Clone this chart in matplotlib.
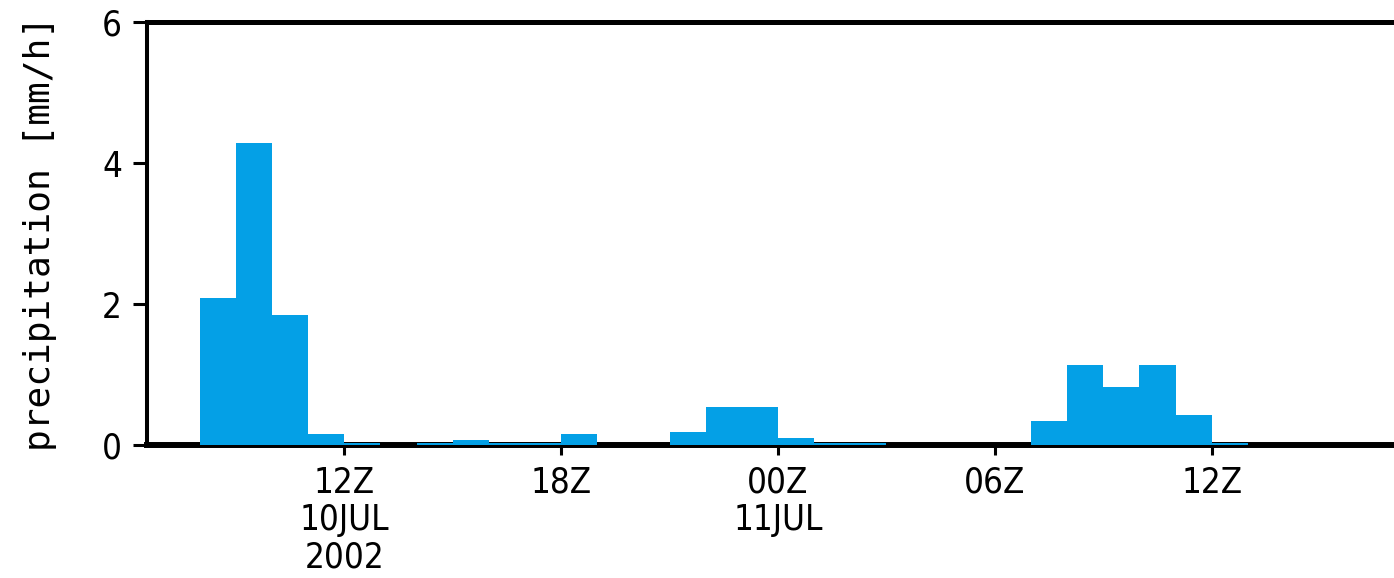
import matplotlib
matplotlib.use("Agg")
import matplotlib.pyplot as plt

# hourly precipitation, bar start hour counted from 00Z 10 JUL 2002
hours = list(range(8, 37))
precip = [2.09, 4.28, 1.85, 0.15, 0.03, 0.0, 0.03, 0.07, 0.03, 0.03,
          0.15, 0.0, 0.0, 0.18, 0.54, 0.54, 0.10, 0.03, 0.03, 0.0,
          0.0, 0.0, 0.0, 0.34, 1.14, 0.82, 1.14, 0.42, 0.03]

tick_hours = [12, 18, 24, 30, 36]
tick_labels = ["12Z\n10JUL\n2002", "18Z", "00Z\n11JUL", "06Z", "12Z"]
y_ticks = [0, 2, 4, 6]

BAR_COLOR = "#04a0e6"
TICK_FONT = dict(family="DejaVu Sans", fontstretch="condensed", fontsize=25)
LABEL_FONT = dict(family="DejaVu Sans Mono", fontsize=26)

fig = plt.figure(figsize=(13.94, 5.78), dpi=100)
# axes runs past the right edge of the figure, so the right side is cut off
ax = fig.add_axes([147 / 1394, 0.2301, 0.9193, 0.7318])

ax.bar(hours, precip, width=1.0, align="edge", color=BAR_COLOR,
       linewidth=0, zorder=3)

ax.set_xlim(6.54, 42)
ax.set_ylim(0, 6)

ax.spines["right"].set_visible(False)
ax.spines["left"].set_linewidth(2.9)
ax.spines["top"].set_linewidth(3.6)
ax.spines["bottom"].set_linewidth(4.3)
for s in ax.spines.values():
    s.set_zorder(2)

ax.set_xticks(tick_hours)
ax.set_xticklabels(tick_labels, linespacing=1.12, **TICK_FONT)
ax.set_yticks(y_ticks)
ax.set_yticklabels([str(v) for v in y_ticks], **TICK_FONT)

ax.tick_params(axis="y", direction="out", length=10, width=2.2, pad=8)
ax.tick_params(axis="x", direction="out", length=7, width=2.2, pad=8)

ax.set_ylabel("precipitation [mm/h]", **LABEL_FONT)
ax.yaxis.set_label_coords(-0.07, 0.5)

fig.savefig("out.png", dpi=100)
